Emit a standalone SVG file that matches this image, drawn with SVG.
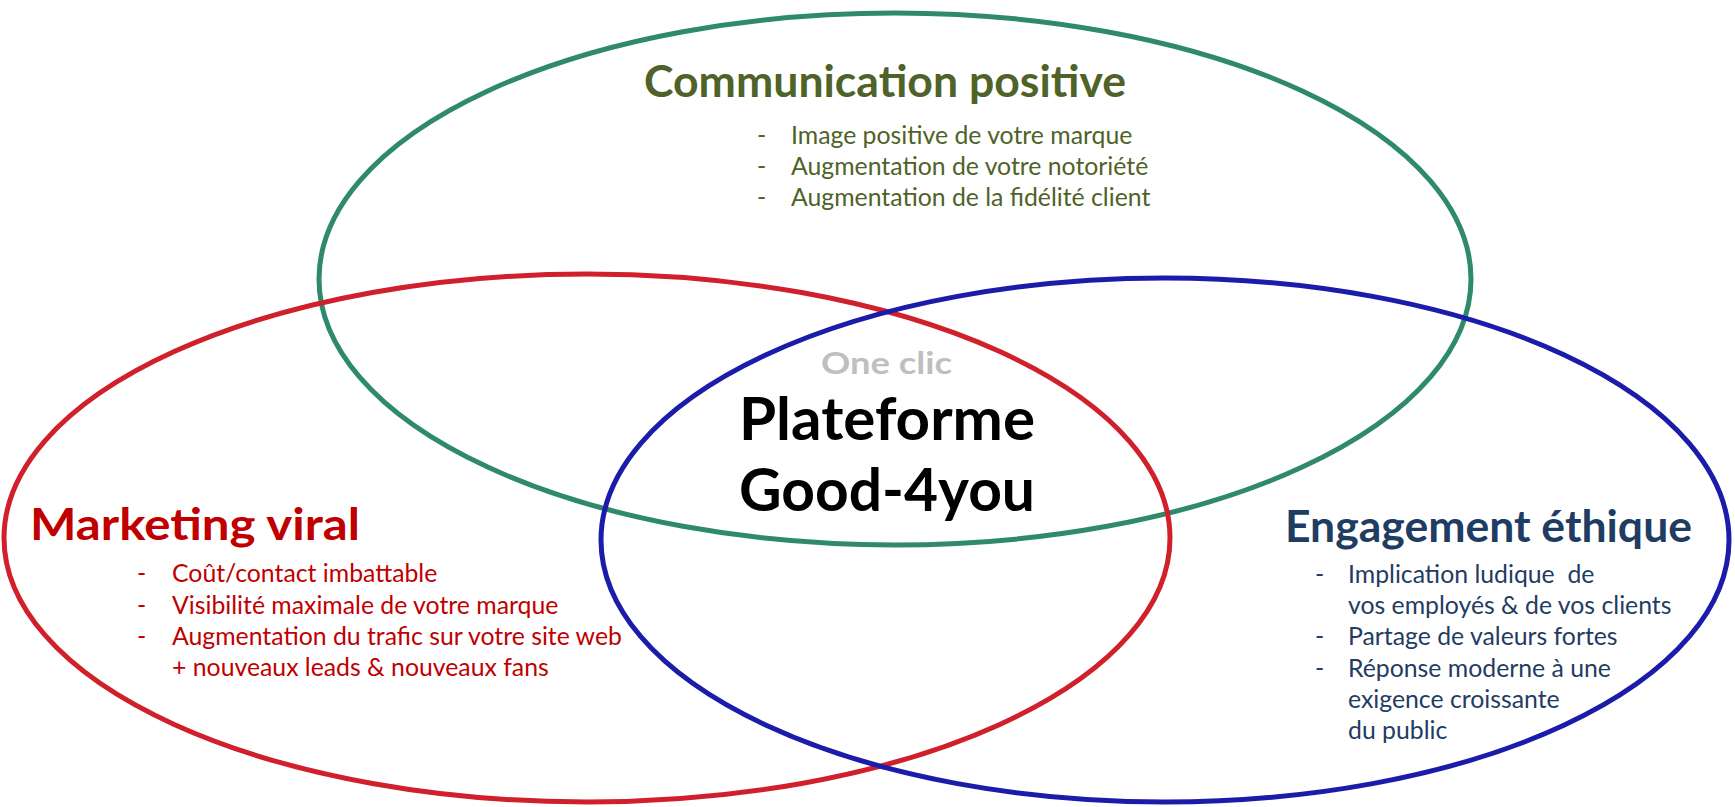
<svg xmlns="http://www.w3.org/2000/svg" width="1735" height="807" viewBox="0 0 1735 807">
<style>
.t{font-family:Lato,"Open Sans","Liberation Sans",sans-serif}
.h{font-weight:bold;font-size:44px}
.b{font-size:24.8px}
.g{fill:#4f6228}
.r{fill:#c00000}
.n{fill:#1f3c63}
.ring{fill:none;stroke-width:5}
</style>
<rect width="1735" height="807" fill="#ffffff"/>
<g id="connectors">
<ellipse id="ring-green" class="ring" cx="895" cy="279" rx="576" ry="266" stroke="#2f8a6c"/>
<ellipse id="ring-red" class="ring" cx="587" cy="538" rx="583" ry="264" stroke="#d0202c"/>
<ellipse id="ring-blue" class="ring" cx="1165" cy="540" rx="564" ry="262" stroke="#1c1cab"/>
</g>
<g id="node-communication" class="t g">
<text class="h" x="644" y="97" textLength="482" lengthAdjust="spacingAndGlyphs">Communication positive</text>
<text class="b" x="757" y="144">-</text><text class="b" x="791" y="144">Image positive de votre marque</text>
<text class="b" x="757" y="175">-</text><text class="b" x="791" y="175">Augmentation de votre notoriété</text>
<text class="b" x="757" y="206">-</text><text class="b" x="791" y="206">Augmentation de la fidélité client</text>
</g>
<g id="node-marketing" class="t r">
<text class="h" x="30" y="540" textLength="330" lengthAdjust="spacingAndGlyphs">Marketing viral</text>
<text class="b" x="137" y="582">-</text><text class="b" x="172" y="582">Coût/contact imbattable</text>
<text class="b" x="137" y="614">-</text><text class="b" x="172" y="614">Visibilité maximale de votre marque</text>
<text class="b" x="137" y="645">-</text><text class="b" x="172" y="645">Augmentation du trafic sur votre site web</text>
<text class="b" x="172" y="676">+ nouveaux leads &amp; nouveaux fans</text>
</g>
<g id="node-engagement" class="t n">
<text class="h" x="1285" y="542" textLength="407" lengthAdjust="spacingAndGlyphs">Engagement éthique</text>
<text class="b" x="1315" y="583">-</text><text class="b" x="1348" y="583" xml:space="preserve">Implication ludique  de</text>
<text class="b" x="1348" y="614">vos employés &amp; de vos clients</text>
<text class="b" x="1315" y="645">-</text><text class="b" x="1348" y="645">Partage de valeurs fortes</text>
<text class="b" x="1315" y="677">-</text><text class="b" x="1348" y="677">Réponse moderne à une</text>
<text class="b" x="1348" y="708">exigence croissante</text>
<text class="b" x="1348" y="739">du public</text>
</g>
<g id="node-center" class="t">
<text x="821" y="374" font-size="31" font-weight="bold" fill="#bfbfbf" textLength="131" lengthAdjust="spacingAndGlyphs">One clic</text>
<text x="739" y="440" font-size="60" font-weight="bold" fill="#000" textLength="296" lengthAdjust="spacingAndGlyphs">Plateforme</text>
<text x="739" y="511" font-size="60" font-weight="bold" fill="#000" textLength="296" lengthAdjust="spacingAndGlyphs">Good-4you</text>
</g>
</svg>
